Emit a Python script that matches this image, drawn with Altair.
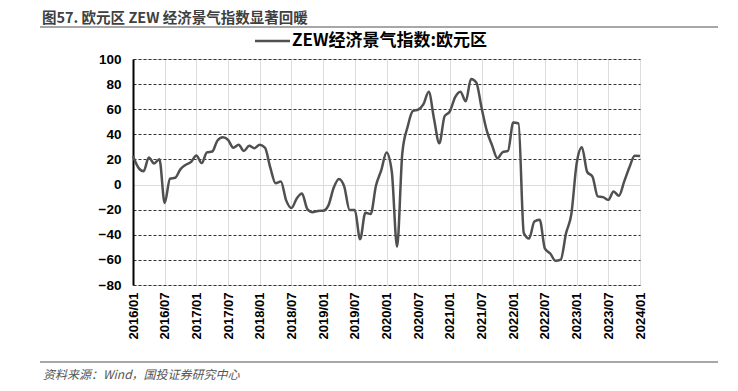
import altair as alt
import pandas as pd

# ZEW economic sentiment, euro area, monthly 2016/01 - 2024/01
months = [f"{y}/{m:02d}" for y in range(2016, 2024) for m in range(1, 13)] + ["2024/01"]
values = [
    22.7, 13.6, 10.6, 21.5, 16.8, 20.2, -14.7, 4.6, 5.4, 12.3, 15.8, 18.1,
    23.2, 17.1, 25.6, 26.3, 35.1, 37.7, 35.6, 29.3, 31.7, 26.7, 30.9, 29.0,
    31.8, 29.3, 13.4, 1.1, 2.4, -12.6, -18.7, -11.1, -7.2, -19.4, -22.0, -21.0,
    -20.9, -16.6, -2.5, 4.5, -1.6, -20.2, -20.3, -43.6, -22.4, -23.5, -1.0, 11.2,
    25.6, 10.4, -49.5, 25.2, 46.0, 58.6, 59.6, 64.0, 73.9, 52.3, 32.8, 54.4,
    58.3, 69.6, 74.0, 66.3, 84.0, 81.3, 61.2, 42.7, 31.1, 21.0, 25.9, 26.8,
    49.4, 48.6, -38.7, -43.0, -29.5, -28.0, -51.1, -54.9, -60.7, -59.7, -38.7, -23.6,
    16.7, 29.7, 10.0, 6.4, -9.4, -10.0, -12.2, -5.5, -8.9, 2.3, 13.8, 23.0,
    22.7,
]
tick_labels = months[::6]
y_ticks = list(range(-80, 101, 20))

title_text = "图57. 欧元区 ZEW 经济景气指数显著回暖"
legend_text = "ZEW经济景气指数:欧元区"
source_text = "资料来源：Wind，国投证券研究中心"

df = pd.DataFrame({"idx": list(range(len(months))), "month": months, "value": values})

label_expr = "[" + ",".join(f"'{t}'" for t in tick_labels) + "][round(datum.value/6)]"

LINE_COLOR = "#505050"

base = alt.Chart(df)

line = base.mark_line(color=LINE_COLOR, strokeWidth=2.5, interpolate="monotone").encode(
    x=alt.X(
        "idx:Q",
        scale=alt.Scale(domain=[0, len(months) - 1], nice=False, zero=False),
        axis=alt.Axis(
            title=None,
            values=list(range(0, len(months), 6)),
            labelExpr=label_expr,
            labelAngle=-90,
            labelAlign="right",
            labelBaseline="middle",
            labelFont="Liberation Sans",
            labelFontWeight="bold",
            labelFontSize=13,
            labelColor="#000000",
            labelPadding=7,
            domain=False,
            ticks=False,
            grid=True,
            gridColor="#dcdcdc",
            gridWidth=1,
        ),
    ),
    y=alt.Y(
        "value:Q",
        scale=alt.Scale(domain=[-80, 100], nice=False),
        axis=alt.Axis(
            title=None,
            values=y_ticks,
            labelFont="Liberation Sans",
            labelFontWeight="bold",
            labelFontSize=13.5,
            labelColor="#000000",
            labelPadding=12,
            domain=True,
            domainColor="#000000",
            domainWidth=2,
            ticks=False,
            grid=True,
            gridColor={"condition": {"test": "datum.value === 0", "value": "#dcdcdc"}, "value": "#333333"},
            gridDash={"condition": {"test": "datum.value === 0", "value": []}, "value": [3, 2]},
            gridWidth=1,
        ),
    ),
)

text_df = pd.DataFrame({"k": [0]})
tb = alt.Chart(text_df)

title = tb.mark_text(
    align="left", baseline="middle", font="Noto Sans CJK SC", fontWeight="bold",
    fontSize=14.5, color="#404040",
).encode(x=alt.value(-91), y=alt.value(-40), text=alt.value(title_text))

top_rule = tb.mark_rule(color="#8a8a8a", strokeWidth=1.5).encode(
    x=alt.value(-93), x2=alt.value(585), y=alt.value(-32)
)
bottom_rule = tb.mark_rule(color="#8a8a8a", strokeWidth=1.5).encode(
    x=alt.value(-93), x2=alt.value(585), y=alt.value(303)
)
source = tb.mark_text(
    align="left", baseline="middle", font="Noto Sans CJK SC", fontStyle="italic",
    fontSize=12, color="#555555",
).encode(x=alt.value(-90), y=alt.value(316), text=alt.value(source_text))

legend_line = tb.mark_rule(color=LINE_COLOR, strokeWidth=2.5).encode(
    x=alt.value(122), x2=alt.value(157), y=alt.value(-18)
)
legend_label = tb.mark_text(
    align="left", baseline="middle", font="Noto Sans CJK SC", fontWeight="bold",
    fontSize=17, color="#000000",
).encode(x=alt.value(159), y=alt.value(-18), text=alt.value(legend_text))

chart = alt.layer(line, title, top_rule, bottom_rule, source, legend_line, legend_label).properties(
    width=507,
    height=226,
    autosize=alt.AutoSizeParams(type="none"),
    padding={"left": 125, "top": 51, "right": 90, "bottom": 98},
).configure_view(stroke=None).configure(background="white")

chart.save("out.html", embed_options={"renderer": "svg", "actions": False})
